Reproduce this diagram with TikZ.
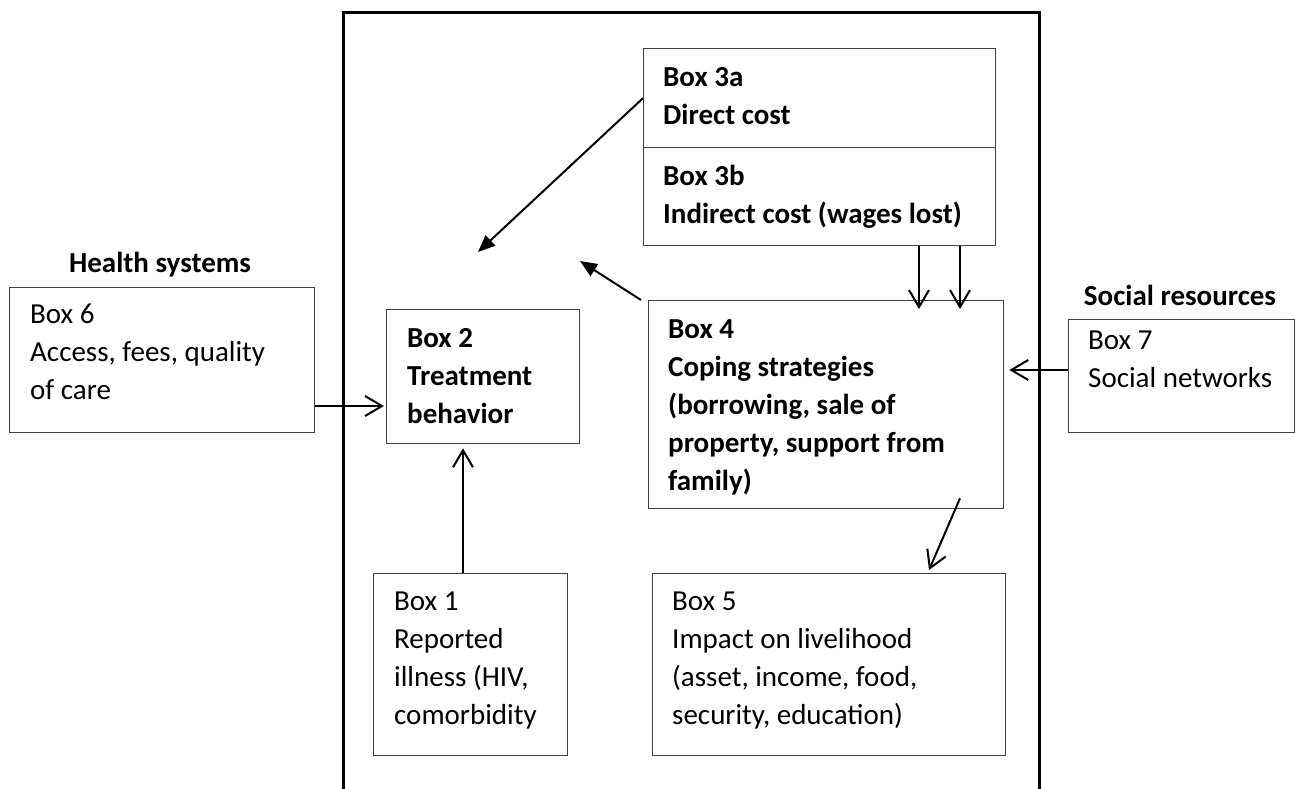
\documentclass[tikz,border=0pt]{standalone}
\usepackage{fontspec}
\setmainfont{Carlito}
\usetikzlibrary{arrows.meta,calc}
\newcommand\fl{\rule{0pt}{25pt}}
\begin{document}
\begin{tikzpicture}[x=1pt,y=-1pt,
  bx/.style={draw=black!75, line width=1.3pt, inner sep=0pt, anchor=north west},
  tx/.style={inner sep=0pt, anchor=north west, align=left, font=\fontsize{29}{38}\selectfont},
  tb/.style={inner sep=0pt, anchor=north west, align=left, font=\fontsize{29}{38}\selectfont\bfseries},
  ar/.style={line width=2pt, -{Straight Barb[length=17pt,width=20pt,line width=2pt]}},
  af/.style={line width=2pt, -{Triangle[length=17pt,width=14pt]}},
  frame/.style={line width=3pt, line cap=rect}]
\useasboundingbox (0,0) rectangle (1295,789);
% outer frame (open at the bottom)
\draw[frame] (343,789) -- (343,13) -- (1039,13) -- (1039,789);
% boxes
\node[bx, minimum width=352pt, minimum height=99pt] (b3a) at (643,48) {};
\node[bx, minimum width=352pt, minimum height=98pt] (b3b) at (643,147) {};
\node[bx, minimum width=305pt, minimum height=145pt] (b6) at (9,287) {};
\node[bx, minimum width=193pt, minimum height=134pt] (b2) at (386,309) {};
\node[bx, minimum width=355pt, minimum height=208pt] (b4) at (648,300) {};
\node[bx, minimum width=226pt, minimum height=113pt] (b7) at (1068,319) {};
\node[bx, minimum width=194pt, minimum height=182pt] (b1) at (373,573) {};
\node[bx, minimum width=353pt, minimum height=182pt] (b5) at (652,573) {};
% texts
\node[tb] (t3a) at (663,61) {\fl Box 3a\\Direct cost};
\node[tb] (t3b) at (663,160) {\fl Box 3b\\Indirect cost (wages lost)};
\node[tx] (t6) at (30,298) {\fl Box 6\\Access, fees, quality\\of care};
\node[tb, anchor=base] (hs) at (160,272) {Health systems};
\node[tb] (t2) at (407,322) {\fl Box 2\\Treatment\\behavior};
\node[tb] (t4) at (668,313) {\fl Box 4\\Coping strategies\\(borrowing, sale of\\property, support from\\family)};
\node[tx] (t7) at (1088,324) {\fl Box 7\\Social networks};
\node[tb, anchor=base] (sr) at (1180,305) {Social resources};
\node[tx] (t1) at (394,585) {\fl Box 1\\Reported\\illness (HIV,\\comorbidity};
\node[tx] (t5) at (672,585) {\fl Box 5\\Impact on livelihood\\(asset, income, food,\\security, education)};
% free ends
\coordinate (p1) at (478,252);
\coordinate (q0) at (641,300);
\coordinate (p2) at (580,261);
% connectors
\draw[ar] ($(b6.north east)+(0,119)$) -- ($(b2.north west)+(-2,97)$);
\draw[ar] ($(b1.north west)+(90,0)$) -- ($(b2.south west)+(77,4)$);
\draw[ar] ($(b3b.south west)+(276,0)$) -- ($(b4.north west)+(271,9)$);
\draw[ar] ($(b3b.south west)+(317,0)$) -- ($(b4.north west)+(312,9)$);
\draw[ar] ($(b7.north west)+(0,51)$) -- ($(b4.north east)+(5,70)$);
\draw[ar] ($(b4.south west)+(312,-11)$) -- ($(b5.north west)+(277,-3)$);
\draw[af] (b3a.west) -- (p1);
\draw[af] (q0) -- (p2);
\end{tikzpicture}
\end{document}
